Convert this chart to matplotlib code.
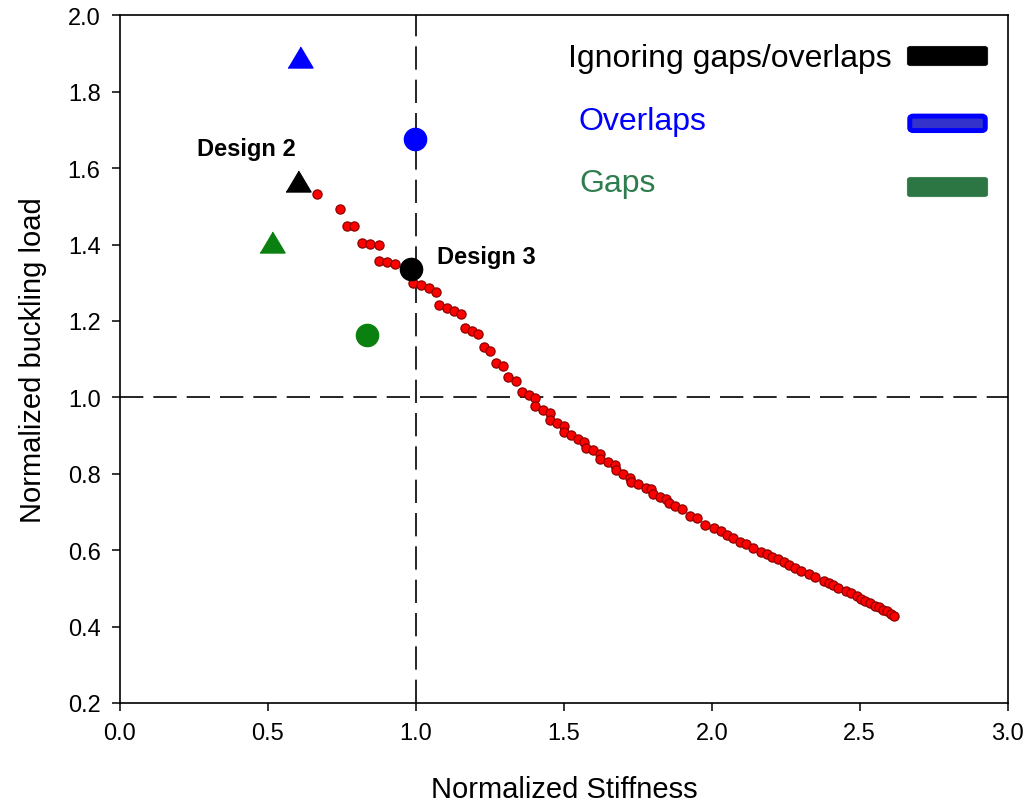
import matplotlib.pyplot as plt
from matplotlib.patches import FancyBboxPatch

plt.rcParams['font.family'] = ['Liberation Sans', 'DejaVu Sans']

# pareto front (red dots)
front_x = [0.667, 0.742, 0.767, 0.791, 0.817, 0.845, 0.874, 0.875, 0.902, 0.931,
           0.990, 1.017, 1.043, 1.069, 1.078, 1.104, 1.128, 1.153, 1.167, 1.190,
           1.210, 1.231, 1.250, 1.271, 1.294, 1.313, 1.337, 1.359, 1.381, 1.403,
           1.403, 1.429, 1.453, 1.453, 1.477, 1.499, 1.499, 1.525, 1.548, 1.569,
           1.575, 1.597, 1.621, 1.623, 1.648, 1.674, 1.677, 1.700, 1.725, 1.727,
           1.752, 1.778, 1.795, 1.800, 1.824, 1.846, 1.854, 1.877, 1.900, 1.928,
           1.950, 1.978, 2.006, 2.030, 2.052, 2.072, 2.097, 2.117, 2.140, 2.167,
           2.185, 2.204, 2.225, 2.243, 2.260, 2.280, 2.300, 2.328, 2.350, 2.379,
           2.395, 2.410, 2.426, 2.452, 2.470, 2.491, 2.505, 2.519, 2.536, 2.550,
           2.564, 2.580, 2.593, 2.605, 2.615]
front_y = [1.532, 1.493, 1.448, 1.448, 1.404, 1.402, 1.399, 1.357, 1.354, 1.350,
           1.299, 1.293, 1.286, 1.277, 1.242, 1.234, 1.226, 1.217, 1.182, 1.174,
           1.165, 1.131, 1.121, 1.090, 1.081, 1.053, 1.042, 1.014, 1.007, 0.997,
           0.978, 0.968, 0.959, 0.942, 0.933, 0.926, 0.910, 0.901, 0.892, 0.884,
           0.868, 0.861, 0.852, 0.838, 0.831, 0.823, 0.810, 0.800, 0.790, 0.779,
           0.772, 0.762, 0.759, 0.748, 0.740, 0.733, 0.723, 0.716, 0.707, 0.690,
           0.685, 0.666, 0.659, 0.650, 0.640, 0.633, 0.621, 0.615, 0.605, 0.596,
           0.590, 0.583, 0.576, 0.570, 0.561, 0.554, 0.546, 0.537, 0.531, 0.520,
           0.515, 0.509, 0.502, 0.494, 0.487, 0.479, 0.473, 0.467, 0.461, 0.455,
           0.450, 0.444, 0.440, 0.434, 0.429]

# designs: (stiffness, buckling) for design 2 (triangles) and design 3 (circles)
design2_x = {'ignore': 0.602, 'overlap': 0.609, 'gap': 0.515}
design2_y = {'ignore': 1.567, 'overlap': 1.890, 'gap': 1.406}
design3_x = {'ignore': 0.983, 'overlap': 0.998, 'gap': 0.834}
design3_y = {'ignore': 1.336, 'overlap': 1.676, 'gap': 1.164}

colors = {'ignore': 'black', 'overlap': '#0000ff', 'gap': '#0a8010'}

xticks = [0.0, 0.5, 1.0, 1.5, 2.0, 2.5, 3.0]
yticks = [0.2, 0.4, 0.6, 0.8, 1.0, 1.2, 1.4, 1.6, 1.8, 2.0]

fig = plt.figure(figsize=(10.27, 8.03), dpi=100)
ax = fig.add_axes([0.1168, 0.1233, 0.8644, 0.8564])

ax.axvline(1.0, color='black', lw=1.2, dashes=(14, 6), zorder=1)
ax.axhline(1.0, color='black', lw=1.2, dashes=(14, 6), zorder=1)

ax.plot(front_x, front_y, 'o', ms=6.6, mfc='red', mec='#8c0000', mew=0.9, zorder=3)

tri = [(-1, -0.84), (1, -0.84), (0, 0.84)]
for k in ['ignore', 'overlap', 'gap']:
    ax.plot(design2_x[k], design2_y[k], marker=tri, ms=18, color=colors[k],
            ls='none', zorder=4)
    ax.plot(design3_x[k], design3_y[k], marker='o', ms=16, color=colors[k],
            ls='none', zorder=4)

ax.text(0.260, 1.634, 'Design 2', fontsize=17, fontweight='bold', va='baseline')
ax.text(1.072, 1.352, 'Design 3', fontsize=17, fontweight='bold', va='baseline')

# legend-like labels and swatches
ax.text(0.5047, 0.9267, 'Ignoring gaps/overlaps', transform=ax.transAxes,
        fontsize=23, color='black', va='baseline')
ax.text(0.5163, 0.8347, 'Overlaps', transform=ax.transAxes,
        fontsize=23, color='#0000ff', va='baseline')
ax.text(0.5173, 0.745, 'Gaps', transform=ax.transAxes,
        fontsize=23, color='#2e7d4e', va='baseline')

swatches = [((0.8869, 0.9267, 0.0906, 0.0282), 'black', 'black', 0.5),
            ((0.8897, 0.8324, 0.0850, 0.0210), '#3333cc', '#0000ff', 3.6),
            ((0.8869, 0.7362, 0.0906, 0.0282), '#2b7643', '#2b7643', 0.5)]
for (x0, y0, w, h), fc, ec, lw in swatches:
    ax.add_patch(FancyBboxPatch((x0, y0), w, h,
                                boxstyle='round,pad=0,rounding_size=0.004',
                                transform=ax.transAxes, fc=fc, ec=ec, lw=lw,
                                clip_on=False))

ax.set_xlim(0, 3)
ax.set_ylim(0.2, 2.0)
ax.set_xticks(xticks)
ax.set_yticks(yticks)
ax.set_xticklabels([f'{v:.1f}' for v in xticks])
ax.set_yticklabels([f'{v:.1f}' for v in yticks])
ax.tick_params(direction='out', length=6, width=1.1, labelsize=17)
ax.tick_params(axis='x', pad=8)
ax.tick_params(axis='y', pad=8)
for s in ax.spines.values():
    s.set_linewidth(1.2)

ax.set_xlabel('Normalized Stiffness', fontsize=21, labelpad=22)
ax.set_ylabel('Normalized buckling load', fontsize=21, labelpad=15)

fig.savefig('out.png', dpi=100)
